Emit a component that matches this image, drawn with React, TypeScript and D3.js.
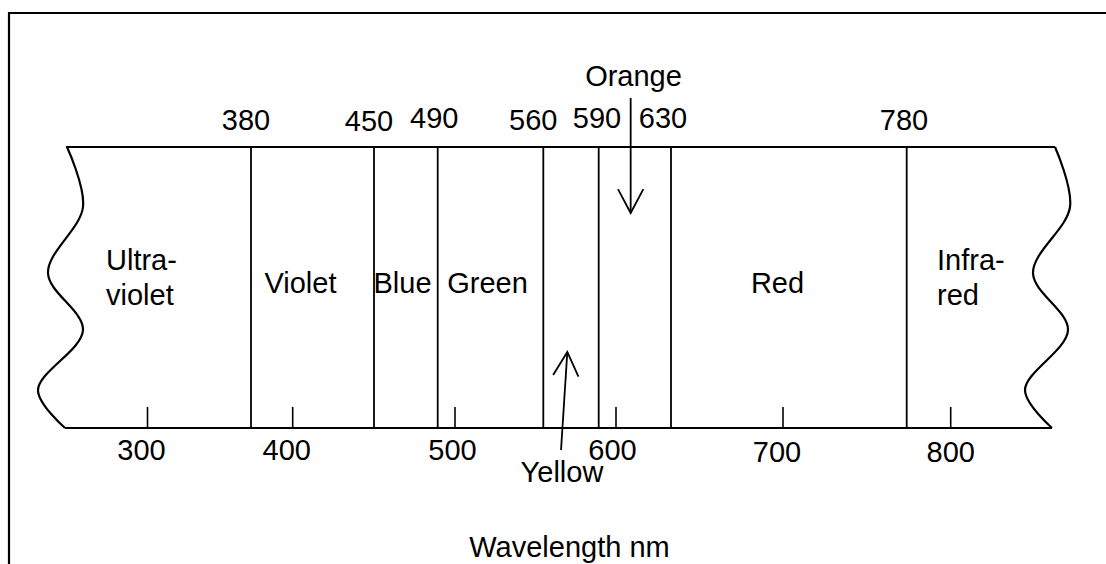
import React from 'react';
import * as d3 from 'd3';

// ---- data ----
// schematic (non-uniform) wavelength axis: anchor wavelengths and where they sit
const axisWavelengths = [300, 380, 400, 450, 490, 500, 560, 590, 600, 630, 700, 780, 800];
const axisPositions = [147.5, 251, 292.7, 374, 437.7, 455, 543.3, 598.7, 616, 671, 783, 906.7, 950.7];

const boundaries = [380, 450, 490, 560, 590, 630, 780];
const boundaryLabels = ['380', '450', '490', '560', '590', '630', '780'];

const tickValues = [300, 400, 500, 600, 700, 800];
const tickLabels = ['300', '400', '500', '600', '700', '800'];

const bandNames = [['Ultra-', 'violet'], ['Violet'], ['Blue'], ['Green'], ['Red'], ['Infra-', 'red']];

const orangeName = 'Orange';
const orangeWavelength = 608;
const yellowName = 'Yellow';
const yellowTipWavelength = 573;
const yellowTailWavelength = 569.6;
const axisTitle = 'Wavelength nm';

// ---- layout ----
const W = 1106;
const H = 564;
const FONT = '"Liberation Sans", Arial, Helvetica, sans-serif';
const FS = 29;
const bandTop = 147;
const bandBottom = 428;
const topLabelDx = [-5, -5, -3.5, -10, -1.7, -8, -2.7];
const topLabelBaseline = [130, 130.5, 127.5, 130, 128, 128, 130];
const bottomLabelDx = [-6, -6, -2.5, -3.5, -6, 0];
const bottomLabelBaseline = [460, 460, 460, 460, 462, 461.5];
const bandLabelX = [106, 300.5, 402.5, 487.5, 777.5, 937];
const bandLabelAnchor = ['start', 'middle', 'middle', 'middle', 'middle', 'start'];
const leftEdge = [[67, 147], [83, 207], [48, 273], [83, 330], [38, 390], [65, 428]];
const rightEdge = [[1055, 147], [1070, 207], [1033, 273], [1068, 330], [1025, 390], [1052, 428]];

const x = d3.scaleLinear().domain(axisWavelengths).range(axisPositions);
const edgeLine = d3.line().curve(d3.curveCatmullRom.alpha(0.5));

function arrowHead(tail: [number, number], tip: [number, number], len = 27, ang = 28) {
  const dx = tail[0] - tip[0];
  const dy = tail[1] - tip[1];
  const d = Math.hypot(dx, dy);
  const ux = dx / d, uy = dy / d;
  const a = (ang * Math.PI) / 180;
  const r = (s: number) => [
    tip[0] + len * (ux * Math.cos(s * a) - uy * Math.sin(s * a)),
    tip[1] + len * (ux * Math.sin(s * a) + uy * Math.cos(s * a)),
  ];
  const p1 = r(1), p2 = r(-1);
  return `M${p1[0]},${p1[1]}L${tip[0]},${tip[1]}L${p2[0]},${p2[1]}`;
}

export default function App() {
  const ox = x(orangeWavelength);
  const orangeTail: [number, number] = [ox, 98];
  const orangeTip: [number, number] = [ox, 213];
  const yellowTip: [number, number] = [x(yellowTipWavelength), 352];
  const yellowTail: [number, number] = [x(yellowTailWavelength), 450];
  const txt = { fontFamily: FONT, fontSize: FS, fill: '#000' } as const;
  return (
    <svg width={W} height={H} viewBox={`0 0 ${W} ${H}`}
      style={{ position: 'absolute', left: 0, top: 0, display: 'block', background: '#fff' }}>
      <rect x={0} y={0} width={W} height={H} fill="#fff" />
      {/* frame (extends beyond the visible area on right/bottom) */}
      <path d={`M9,${H + 5}V13H${W + 5}`} fill="none" stroke="#000" strokeWidth={2.2} />

      {/* band outline */}
      <line x1={66} x2={1055} y1={bandTop} y2={bandTop} stroke="#000" strokeWidth={2} />
      <line x1={65} x2={1052} y1={bandBottom} y2={bandBottom} stroke="#000" strokeWidth={2} />
      <path d={edgeLine(leftEdge as [number, number][]) || ''} fill="none" stroke="#000" strokeWidth={2.2} />
      <path d={edgeLine(rightEdge as [number, number][]) || ''} fill="none" stroke="#000" strokeWidth={2.2} />

      {/* boundaries */}
      {boundaries.map((b, i) => (
        <g key={b}>
          <line x1={x(b)} x2={x(b)} y1={bandTop} y2={bandBottom} stroke="#000" strokeWidth={1.8} />
          <text x={x(b) + topLabelDx[i]} y={topLabelBaseline[i]} textAnchor="middle" {...txt}>{boundaryLabels[i]}</text>
        </g>
      ))}

      {/* ticks */}
      {tickValues.map((t, i) => (
        <g key={t}>
          <line x1={x(t)} x2={x(t)} y1={bandBottom} y2={bandBottom - 21} stroke="#000" strokeWidth={1.6} />
          <text x={x(t) + bottomLabelDx[i]} y={bottomLabelBaseline[i]} textAnchor="middle" {...txt}>{tickLabels[i]}</text>
        </g>
      ))}

      {/* band names */}
      {bandNames.map((lines, i) => (
        <text key={i} x={bandLabelX[i]} y={lines.length > 1 ? 270 : 293} textAnchor={bandLabelAnchor[i] as any} {...txt}>
          {lines.map((l, j) => (
            <tspan key={j} x={bandLabelX[i]} dy={j === 0 ? 0 : 35}>{l}</tspan>
          ))}
        </text>
      ))}

      {/* orange arrow */}
      <text x={633.5} y={86} textAnchor="middle" {...txt}>{orangeName}</text>
      <line x1={orangeTail[0]} y1={orangeTail[1]} x2={orangeTip[0]} y2={orangeTip[1]} stroke="#000" strokeWidth={1.8} />
      <path d={arrowHead(orangeTail, orangeTip)} fill="none" stroke="#000" strokeWidth={1.8} />

      {/* yellow arrow */}
      <line x1={yellowTail[0]} y1={yellowTail[1]} x2={yellowTip[0]} y2={yellowTip[1]} stroke="#000" strokeWidth={1.8} />
      <path d={arrowHead(yellowTail, yellowTip)} fill="none" stroke="#000" strokeWidth={1.8} />
      <text x={562} y={482} textAnchor="middle" {...txt}>{yellowName}</text>

      <text x={569.5} y={557} textAnchor="middle" {...txt}>{axisTitle}</text>
    </svg>
  );
}
